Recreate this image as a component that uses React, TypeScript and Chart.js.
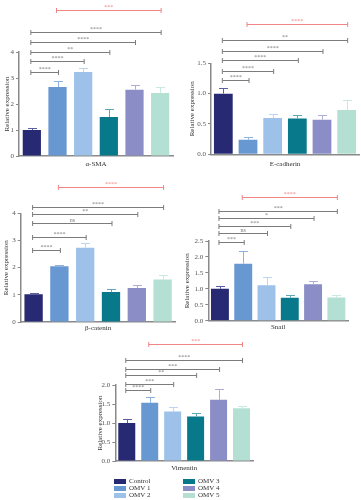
import React, { useEffect, useRef } from "react";
import { Chart, registerables } from "chart.js";
Chart.register(...registerables);

const FONT = "'Liberation Serif', 'Times New Roman', serif";

// ---- data ----
const groups = ["Control", "OMV 1", "OMV 2", "OMV 3", "OMV 4", "OMV 5"];
const barColors = ["#272a72", "#6798d2", "#9dc1e9", "#08798b", "#8b8dc7", "#b3e0d3"];
const errColors = ["#5b5fa6", "#8fb3e1", "#bcd5f0", "#5ea8b5", "#acaed9", "#c8eadf"];

const smaMean = [1.0, 2.65, 3.23, 1.5, 2.55, 2.42];
const smaErr = [1.08, 2.9, 3.37, 1.8, 2.75, 2.67];
const smaSig = ["****", "****", "**", "****", "****"];
const smaSigLevel = [3.23, 3.65, 4.0, 4.38, 4.77];
const smaRed = "***";
const smaRedLevel = 5.6;

const ecadMean = [1.0, 0.24, 0.6, 0.59, 0.57, 0.73];
const ecadErr = [1.09, 0.28, 0.66, 0.64, 0.64, 0.89];
const ecadSig = ["****", "****", "****", "****", "**"];
const ecadSigLevel = [1.22, 1.38, 1.55, 1.71, 1.88];
const ecadRed = "****";
const ecadRedLevel = 2.15;

const bcatMean = [1.02, 2.05, 2.73, 1.1, 1.25, 1.56];
const bcatErr = [1.08, 2.08, 2.89, 1.22, 1.35, 1.72];
const bcatSig = ["****", "****", "ns", "**", "****"];
const bcatSigLevel = [2.66, 3.13, 3.63, 3.97, 4.24];
const bcatRed = "****";
const bcatRedLevel = 4.97;

const snailMean = [1.0, 1.79, 1.11, 0.72, 1.14, 0.73];
const snailErr = [1.1, 2.18, 1.36, 0.8, 1.25, 0.8];
const snailSig = ["***", "ns", "***", "*", "***"];
const snailSigLevel = [2.47, 2.74, 2.96, 3.21, 3.45];
const snailRed = "****";
const snailRedLevel = 3.87;

const vimMean = [1.0, 1.53, 1.3, 1.17, 1.61, 1.39];
const vimErr = [1.1, 1.69, 1.41, 1.27, 1.9, 1.45];
const vimSig = ["****", "***", "**", "***", "****"];
const vimSigLevel = [1.86, 2.03, 2.26, 2.42, 2.66];
const vimRed = "***";
const vimRedLevel = 3.08;

type Panel = {
  name: string;
  mean: number[];
  err: number[];
  sig: string[];
  sigLevel: number[];
  red: string;
  redLevel: number;
  max: number;
  step: number;
  dec: number;
  box: [number, number, number, number]; // left, top, w, h (page)
  area: [number, number, number, number]; // L, T, R, B (page)
  yTitleX: number;
  xTitleY: number;
  barPct: number;
};

const panels: Panel[] = [
  {
    name: "α-SMA", mean: smaMean, err: smaErr, sig: smaSig, sigLevel: smaSigLevel, red: smaRed, redLevel: smaRedLevel,
    max: 4, step: 1, dec: 0, box: [0, 0, 180, 170], area: [19, 52, 173, 156], yTitleX: 7.5, xTitleY: 164, barPct: 0.71,
  },
  {
    name: "E-cadherin", mean: ecadMean, err: ecadErr, sig: ecadSig, sigLevel: ecadSigLevel, red: ecadRed, redLevel: ecadRedLevel,
    max: 1.5, step: 0.5, dec: 1, box: [180, 0, 181, 170], area: [211, 63.3, 359, 154.3], yTitleX: 192, xTitleY: 164, barPct: 0.76,
  },
  {
    name: "β-catenin", mean: bcatMean, err: bcatErr, sig: bcatSig, sigLevel: bcatSigLevel, red: bcatRed, redLevel: bcatRedLevel,
    max: 4, step: 1, dec: 0, box: [0, 160, 180, 175], area: [20.7, 213.3, 175.5, 322], yTitleX: 6, xTitleY: 328.5, barPct: 0.71,
  },
  {
    name: "Snail", mean: snailMean, err: snailErr, sig: snailSig, sigLevel: snailSigLevel, red: snailRed, redLevel: snailRedLevel,
    max: 2.5, step: 0.5, dec: 1, box: [180, 160, 181, 175], area: [208.3, 241, 348, 320.7], yTitleX: 187.5, xTitleY: 327.5, barPct: 0.77,
  },
  {
    name: "Vimentin", mean: vimMean, err: vimErr, sig: vimSig, sigLevel: vimSigLevel, red: vimRed, redLevel: vimRedLevel,
    max: 2.0, step: 0.5, dec: 1, box: [90, 320, 180, 155], area: [115.3, 385, 253, 461], yTitleX: 100, xTitleY: 468, barPct: 0.74,
  },
];

function BarPanel({ p, idx }: { p: Panel; idx: number }) {
  const ref = useRef<HTMLCanvasElement>(null);
  useEffect(() => {
    const canvas = ref.current!;
    const [bl, bt, bw, bh] = p.box;
    const L = p.area[0] - bl, T = p.area[1] - bt, R = p.area[2] - bl, B = p.area[3] - bt;
    const titleLH = 7 * 1.2;
    const padLeft = p.yTitleX - bl - titleLH / 2;
    const yWidth = L - padLeft;
    const xHeight = bh - B;
    const xTitlePadBottom = Math.max(0, bh - titleLH / 2 - (p.xTitleY - bt));

    const plugin = {
      id: "sig" + idx,
      afterDatasetsDraw(chart: any) {
        const ctx = chart.ctx as CanvasRenderingContext2D;
        const meta = chart.getDatasetMeta(0);
        const ys = chart.scales.y;
        ctx.save();
        // error bars
        meta.data.forEach((el: any, i: number) => {
          const y0 = ys.getPixelForValue(p.mean[i]);
          const y1 = Math.round(ys.getPixelForValue(p.err[i])) + 0.5;
          const x = Math.round(el.x) + 0.5;
          ctx.strokeStyle = errColors[i];
          ctx.lineWidth = 1;
          ctx.beginPath();
          ctx.moveTo(x, y0);
          ctx.lineTo(x, y1);
          ctx.moveTo(x - 4.5, y1);
          ctx.lineTo(x + 4.5, y1);
          ctx.stroke();
        });
        const bracket = (i0: number, i1: number, level: number, label: string, color: string) => {
          const x1 = meta.data[i0].x - 1;
          const x2 = meta.data[i1].x + 1;
          const y = Math.round(ys.getPixelForValue(level)) + 0.5;
          ctx.strokeStyle = color;
          ctx.lineWidth = 1;
          ctx.beginPath();
          ctx.moveTo(x1, y);
          ctx.lineTo(x2, y);
          ctx.moveTo(x1, y - 2.5);
          ctx.lineTo(x1, y + 2.5);
          ctx.moveTo(x2, y - 2.5);
          ctx.lineTo(x2, y + 2.5);
          ctx.stroke();
          ctx.fillStyle = color;
          ctx.font = `6px ${FONT}`;
          ctx.textAlign = "center";
          ctx.textBaseline = "middle";
          ctx.fillText(label, (x1 + x2) / 2, y - 3);
        };
        p.sig.forEach((s, k) => bracket(0, k + 1, p.sigLevel[k], s, "#7c7c7c"));
        bracket(1, 5, p.redLevel, p.red, "#f08585");
        ctx.restore();
      },
    };

    const chart = new Chart(canvas, {
      type: "bar",
      data: {
        labels: groups,
        datasets: [
          {
            data: p.mean,
            backgroundColor: barColors,
            borderWidth: 0,
            barPercentage: p.barPct,
            categoryPercentage: 1,
          },
        ],
      },
      options: {
        responsive: false,
        animation: false,
        devicePixelRatio: 1,
        layout: { padding: { left: padLeft, top: T, right: bw - R, bottom: 0 } },
        plugins: { legend: { display: false }, tooltip: { enabled: false }, title: { display: false } },
        scales: {
          x: {
            ticks: { display: false },
            grid: { display: false },
            border: { display: true, color: "#8a8a8a", width: 1.5 },
            title: {
              display: true,
              text: p.name,
              font: { family: FONT, size: 7 },
              color: "#333",
              padding: { top: 0, bottom: xTitlePadBottom },
            },
            afterFit: (s: any) => {
              s.height = xHeight;
            },
          },
          y: {
            min: 0,
            max: p.max,
            ticks: {
              stepSize: p.step,
              callback: (v: any) => Number(v).toFixed(p.dec),
              font: { family: FONT, size: 7 },
              color: "#555",
              padding: 2,
            },
            grid: { display: true, drawOnChartArea: false, drawTicks: true, tickLength: 3, color: "#8a8a8a", lineWidth: 1 },
            border: { display: true, color: "#8a8a8a", width: 1.5 },
            title: {
              display: true,
              text: "Relative expression",
              font: { family: FONT, size: 7 },
              color: "#333",
              padding: { top: 0, bottom: 0 },
            },
            afterFit: (s: any) => {
              s.width = yWidth;
            },
          },
        },
      },
      plugins: [plugin],
    } as any);
    return () => chart.destroy();
  }, []);
  const [bl, bt, bw, bh] = p.box;
  return (
    <canvas
      ref={ref}
      width={bw}
      height={bh}
      style={{ position: "absolute", left: bl, top: bt, width: bw, height: bh }}
    />
  );
}

function Legend() {
  const cols = [
    { boxX: 114, textX: 129, items: [0, 1, 2] },
    { boxX: 182.5, textX: 198, items: [3, 4, 5] },
  ];
  return (
    <>
      {cols.map((c, ci) =>
        c.items.map((gi, r) => (
          <React.Fragment key={`${ci}-${r}`}>
            <div
              style={{
                position: "absolute",
                left: c.boxX,
                top: 478.5 + r * 7.2,
                width: 12,
                height: 5,
                background: barColors[gi],
              }}
            />
            <div
              style={{
                position: "absolute",
                left: c.textX,
                top: 481 + r * 7.2 - 5,
                height: 10,
                lineHeight: "10px",
                fontFamily: FONT,
                fontSize: 7,
                color: "#333",
                whiteSpace: "nowrap",
              }}
            >
              {groups[gi]}
            </div>
          </React.Fragment>
        ))
      )}
    </>
  );
}

export default function App() {
  return (
    <div style={{ position: "absolute", left: 0, top: 0, width: 361, height: 500, background: "#fff", overflow: "hidden" }}>
      {panels.map((p, i) => (
        <BarPanel key={i} p={p} idx={i} />
      ))}
      <Legend />
    </div>
  );
}
